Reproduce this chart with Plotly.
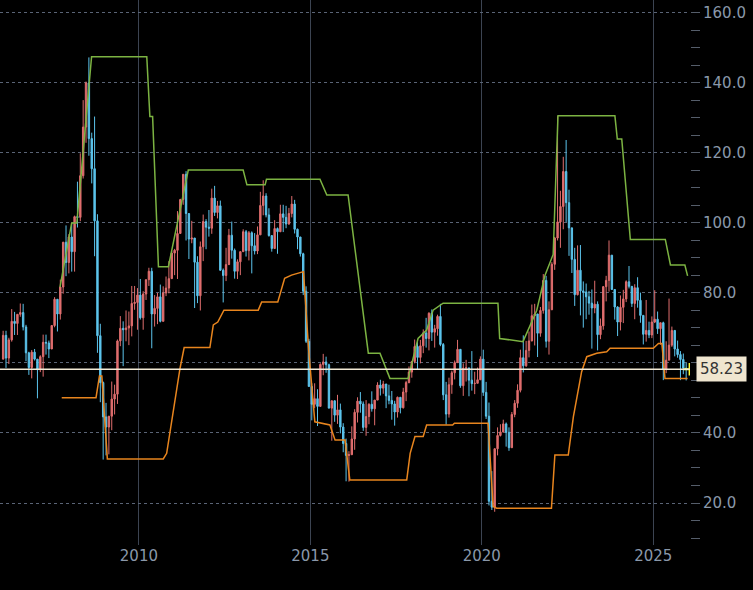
import plotly.graph_objects as go

years = list(range(2006, 2026))
close = [
 67.9,61.4,66.6,71.9,71.3,73.9,74.4,70.3,62.9,58.7,63.1,61.1,
 58.1,61.8,65.9,65.7,64.0,70.7,78.2,74.0,81.7,94.5,88.7,96.0,
 91.8,101.8,101.6,113.5,127.4,140.0,124.1,115.5,100.6,67.8,54.4,44.6,
 41.7,44.8,49.7,51.1,66.3,69.9,69.5,70.0,70.6,77.0,77.3,79.4,
 72.9,79.7,83.8,86.2,74.0,75.6,78.9,71.9,80.0,81.4,84.1,91.4,
 92.2,97.0,106.7,113.9,102.7,95.4,95.7,88.8,79.2,93.2,100.4,98.8,
 98.5,107.1,103.0,104.9,86.5,85.0,88.1,96.5,92.2,86.2,88.9,91.8,
 97.5,92.1,97.2,93.5,92.0,96.6,105.0,107.7,102.3,96.4,92.7,98.4,
 97.5,102.6,101.6,99.7,102.7,105.4,98.2,96.0,91.2,80.5,66.2,53.3,
 48.2,49.8,47.6,59.6,60.3,59.5,47.1,49.2,45.1,46.6,41.7,37.0,
 33.6,33.8,38.3,45.9,49.1,48.3,41.6,44.7,48.2,46.9,49.4,53.7,
 52.8,54.0,50.6,49.3,48.3,46.0,50.2,47.2,51.7,54.4,57.4,60.4,
 64.7,61.6,64.9,68.6,67.0,74.2,68.8,69.8,73.3,65.3,50.9,45.4,
 53.8,57.2,60.1,63.9,53.5,58.5,58.6,55.1,54.1,54.2,55.2,61.1,
 51.6,44.8,20.5,18.8,35.5,39.3,40.3,42.6,40.2,35.8,45.3,48.5,
 52.2,61.5,59.2,63.6,66.3,73.5,74.0,68.5,75.0,83.6,66.2,75.2,
 88.2,95.7,100.3,104.7,114.7,105.8,98.6,89.6,79.5,86.5,80.6,80.3,
 78.9,77.1,75.7,76.8,68.1,70.6,81.8,83.6,90.8,81.0,76.0,71.7,
 75.9,78.3,83.2,81.9,77.0,81.5,77.9,73.6,68.2,69.3,68.0,71.7,
 72.5,69.8,71.5,58.2,60.8,65.1,69.3,64.0,62.4,61.0,58.5,58.23]
high = [
 69.2,69.2,67.2,75.4,74.6,74.0,77.0,76.9,70.9,63.2,63.7,64.0,
 61.1,62.2,68.1,68.1,66.4,70.7,78.8,76.2,83.8,94.6,99.3,96.8,
 100.1,102.1,111.8,119.9,135.1,140.4,147.3,125.8,130.4,102.5,71.2,54.7,
 48.6,43.4,54.7,53.8,66.7,73.4,71.9,75.0,74.7,82.0,82.0,81.4,
 84.0,80.5,83.8,87.2,87.2,79.4,80.0,82.4,81.9,84.7,89.1,92.0,
 92.6,103.4,106.9,113.9,114.8,102.6,100.6,95.4,90.5,94.7,102.4,101.1,
 103.7,109.8,110.6,106.3,106.4,87.0,92.9,98.3,100.4,92.7,89.6,91.6,
 98.2,98.0,97.7,97.6,97.1,99.0,108.9,112.2,108.5,104.2,95.6,100.8,
 98.7,105.2,105.2,104.9,104.3,107.7,106.6,98.4,95.8,91.5,81.9,66.9,
 54.2,54.2,52.5,59.9,62.6,61.8,59.8,49.3,49.3,50.9,48.4,42.8,
 38.4,34.8,41.9,46.8,50.2,51.7,49.0,49.4,48.5,51.9,49.4,54.5,
 55.2,54.9,54.0,53.8,52.0,49.2,50.4,50.2,52.9,54.9,59.0,60.5,
 66.7,66.7,66.6,69.6,72.9,74.5,75.3,70.9,73.8,76.9,65.7,54.6,
 55.8,57.8,60.7,66.6,63.9,59.9,60.9,57.9,63.4,57.5,58.7,61.9,
 63.8,54.6,48.7,29.1,35.6,41.6,42.5,43.8,43.0,41.6,46.0,49.4,
 53.9,63.8,67.9,66.3,69.0,76.7,76.9,70.0,76.0,85.4,84.9,77.6,
 88.8,96.0,130.5,109.2,118.9,123.7,109.5,97.7,92.9,93.6,93.7,83.3,
 82.7,80.6,81.0,83.5,77.6,72.7,82.0,84.9,95.0,90.8,79.8,76.2,
 79.3,80.9,83.6,87.7,80.1,82.5,84.5,80.1,72.3,78.0,71.8,73.3,
 80.8,74.7,70.2,71.8,66.2,78.4,70.4,69.4,66.4,63.4,62.7,60.0]
low = [
 61.8,58.6,59.7,66.1,68.0,68.0,73.2,69.3,60.5,56.6,55.6,60.7,
 49.9,57.4,56.1,62.4,61.4,64.2,70.2,69.0,72.4,79.8,84.8,85.6,
 86.1,86.1,98.7,100.5,112.7,122.9,119.2,111.3,90.5,62.9,48.8,32.4,
 33.6,33.9,40.8,45.3,48.3,64.8,59.1,66.2,65.1,67.6,75.2,69.5,
 72.4,69.5,78.0,82.0,64.2,70.4,71.1,71.6,72.8,79.1,79.9,84.2,
 85.1,84.0,97.4,105.2,95.0,89.7,94.2,75.7,77.1,75.0,89.1,92.5,
 96.1,96.9,102.0,101.3,86.3,77.3,83.4,88.0,89.8,84.1,84.0,85.1,
 91.8,90.4,89.3,85.6,91.0,91.1,96.6,102.2,101.6,96.1,91.8,96.0,
 91.2,97.4,97.4,98.5,99.5,101.6,97.0,92.5,90.4,79.4,65.7,53.3,
 43.6,47.1,42.0,48.6,56.5,57.2,47.1,37.8,43.2,42.6,39.9,34.5,
 26.2,26.1,33.8,35.2,43.0,45.8,40.6,39.2,42.5,46.1,42.2,49.9,
 50.7,51.2,47.1,48.2,43.8,42.1,44.4,45.6,47.0,49.1,54.2,55.8,
 59.9,58.1,59.9,62.8,64.4,63.6,66.3,64.4,67.8,64.8,49.4,42.4,
 44.4,51.2,55.3,60.2,52.9,50.6,54.7,50.5,52.1,51.1,54.4,55.7,
 50.6,44.0,19.3,18.0,17.5,33.6,39.0,40.1,36.1,34.9,35.8,44.5,
 47.2,51.6,57.3,58.9,61.6,66.2,65.0,61.7,67.5,74.1,64.4,62.4,
 75.4,86.6,95.0,92.9,98.2,100.3,90.6,85.7,76.3,79.3,73.6,70.1,
 72.5,73.8,64.1,74.2,63.6,66.8,69.5,77.6,80.4,81.1,72.4,67.7,
 69.3,71.4,77.4,81.3,76.0,72.5,75.8,71.5,65.3,66.1,67.1,67.1,
 71.4,68.3,65.2,55.1,57.1,62.2,64.6,61.9,61.5,55.1,56.8,55.0]
first_open = 61.1

upper_x = [2007.70,2008.04,2008.19,2008.62,2010.23,2010.32,2010.40,2010.57,2010.86,2011.44,2013.04,2013.15,2013.68,2013.72,2015.28,2015.48,2016.10,2016.69,2017.03,2017.32,2017.85,2018.14,2018.39,2018.58,2018.87,2020.47,2020.52,2021.00,2021.20,2021.60,2021.84,2022.08,2022.22,2023.88,2023.95,2024.08,2024.33,2025.35,2025.50,2025.92,2026.00]
upper_y = [81.7,100,100,147.5,147.5,130.4,130.4,87.5,87.5,115.1,115.1,110.9,110.9,112.5,112.5,108,108,62.8,62.8,55.6,55.6,67,69.4,75.1,77.1,77.1,67,66.3,66.1,75,85,91,130.6,130.6,124,124,95.3,95.3,88,88,84.9]
lower_x = [2007.75,2008.75,2008.85,2008.92,2009.08,2010.71,2010.81,2011.20,2011.32,2012.07,2012.17,2012.30,2012.48,2013.48,2013.58,2014.05,2014.25,2014.45,2014.80,2014.95,2015.13,2015.57,2015.72,2016.01,2016.15,2017.81,2017.91,2018.05,2018.29,2018.39,2019.15,2019.20,2020.18,2020.33,2020.43,2022.03,2022.13,2022.52,2022.67,2022.91,2023.06,2023.35,2023.64,2023.74,2025.00,2025.15,2025.25,2025.34,2026.00]
lower_y = [50.1,50.1,56.3,56.3,32.6,32.6,34.2,58.5,64.4,64.4,70.9,71.7,75.1,75.1,77.4,77.4,84.2,85.1,86.1,63.7,43.2,42.3,38,38,26.6,26.6,34.2,39,39,42.3,42.3,42.8,42.8,19,18.5,18.5,33.7,33.7,44.7,57.5,61.8,62.8,63.2,64.2,64.2,65.6,65.6,55.6,55.6]
last_price = 58.23
y_ticks = [20, 40, 60, 80, 100, 120, 140, 160]
y_labels = ["20.0", "40.0", "", "80.0", "100.0", "120.0", "140.0", "160.0"]

xs, opens = [], []
prev = first_open
i = 0
for y in years:
    for m in range(12):
        xs.append(y + (m + 0.5) / 12)
        opens.append(prev)
        prev = close[i]
        i += 1
hi = [max(h, o, c) for h, o, c in zip(high, opens, close)]
lo = [min(l, o, c) for l, o, c in zip(low, opens, close)]

fig = go.Figure()
fig.add_trace(go.Candlestick(x=xs, open=opens, high=hi, low=lo, close=close,
    increasing=dict(line=dict(color="#e06e6e", width=1), fillcolor="#e06e6e"),
    decreasing=dict(line=dict(color="#5cc4ec", width=1), fillcolor="#5cc4ec"),
    whiskerwidth=0, showlegend=False))
fig.add_trace(go.Scatter(x=upper_x, y=upper_y, mode="lines", line=dict(color="#7cb342", width=1.5), showlegend=False))
fig.add_trace(go.Scatter(x=lower_x, y=lower_y, mode="lines", line=dict(color="#e8851e", width=1.5), showlegend=False))
fig.add_hline(y=last_price, line=dict(color="#f2ead6", width=1.5))
fig.add_trace(go.Scatter(x=[xs[-1]+0.1], y=[last_price], mode="markers",
    marker=dict(symbol="cross-thin", size=9, line=dict(color="#ffff33", width=2)), showlegend=False))
fig.add_annotation(xref="paper", x=1, y=last_price, xanchor="left", text="%.2f" % last_price,
    showarrow=False, bgcolor="#efe5cf", font=dict(color="#333333", size=15, family="DejaVu Sans"),
    borderpad=3, xshift=6)

fig.update_layout(width=753, height=590, paper_bgcolor="black", plot_bgcolor="black",
    margin=dict(l=0, r=63, t=0, b=45), showlegend=False,
    font=dict(family="DejaVu Sans", color="#8a98aa", size=15))
fig.update_xaxes(range=[2005.95, 2026.07], tickvals=[2010, 2015, 2020, 2025],
    ticktext=["2010", "2015", "2020", "2025"], showgrid=True, gridcolor="#3c4452",
    gridwidth=1, zeroline=False, rangeslider_visible=False, ticks="", showline=False)
fig.update_yaxes(side="right", range=[8, 163.7], tickvals=y_ticks, ticktext=y_labels,
    showgrid=True, gridcolor="#5a6476", griddash="dot", zeroline=False,
    ticks="outside", ticklen=9, tickcolor="#555d6a",
    minor=dict(dtick=5, tick0=0, ticks="outside", ticklen=9, tickcolor="#555d6a", showgrid=False))
fig.write_html("out.html", config={"displayModeBar": False},
    post_script="document.body.style.margin='0';document.body.style.overflow='hidden';")
